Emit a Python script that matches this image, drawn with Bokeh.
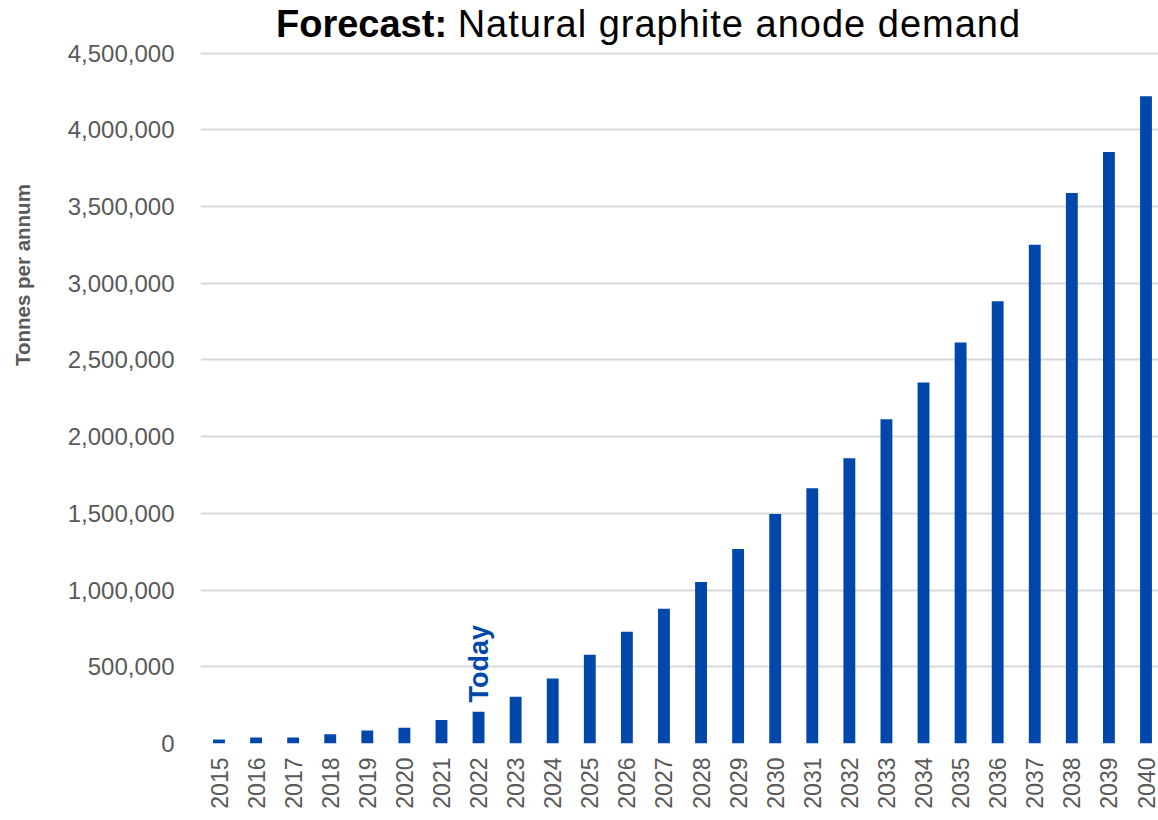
import math
from bokeh.plotting import figure
from bokeh.models import Range1d, FixedTicker, NumeralTickFormatter, Label, ColumnDataSource, Div
from bokeh.layouts import column, row
from bokeh.core.properties import value
from bokeh.embed import file_html
from bokeh.resources import INLINE

# ---- data ----
years = list(range(2015, 2041))
demand = [26000, 39000, 39000, 61000, 85000, 102000, 153000, 207000, 305000, 424000,
          579000, 729000, 879000, 1053000, 1268000, 1496000, 1663000, 1859000, 2113000,
          2353000, 2614000, 2883000, 3251000, 3588000, 3855000, 4218000]
y_ticks = [0, 500000, 1000000, 1500000, 2000000, 2500000, 3000000, 3500000, 4000000, 4500000]
title_bold = "Forecast:"
title_rest = "Natural graphite anode demand"
y_title = "Tonnes per annum"
today_year = 2022
today_text = "Today"

BLUE = "#0047ab"
GRAY = "#595959"
GRID = "#d9d9d9"
FONT = "Liberation Sans"

PAGE_W = 1158
TITLE_H = 40
H = 820 - TITLE_H
YT_W = 44                      # narrow strip holding the y-axis title
W = PAGE_W - YT_W
LEFT, TOP, BOTTOM = 200 - YT_W, 11, 77
frame_w = W - LEFT
px_per_year = 37.08
x0 = 2015 - 18.5 / px_per_year
x1 = x0 + frame_w / px_per_year

# ---- title (bold + regular run) ----
title_div = Div(
    text=(f'<span style="font-weight:bold">{title_bold}</span> '
          f'<span style="letter-spacing:1px">{title_rest}</span>'),
    width=PAGE_W, height=TITLE_H, margin=0,
    styles={"font-family": FONT, "font-size": "38px", "line-height": "38px",
            "color": "black", "padding-left": "276px", "padding-top": "5px",
            "white-space": "nowrap", "box-sizing": "border-box",
            "overflow": "visible", "z-index": "10"})

# ---- y-axis title strip ----
yt = figure(width=YT_W, height=H, output_backend="svg", toolbar_location=None,
            x_range=Range1d(0, YT_W), y_range=Range1d(0, H),
            min_border=0, margin=0)
yt.axis.visible = False
yt.grid.visible = False
yt.outline_line_color = None
yt.background_fill_color = None
yt.border_fill_color = None
yt.text(x=[22], y=[H - 252], text=[y_title], angle=math.pi / 2,
        text_align="center", text_baseline="middle", text_font=value(FONT),
        text_font_style="bold", text_font_size="20.5px", text_color=GRAY)

# ---- main chart ----
p = figure(width=W, height=H, output_backend="svg", toolbar_location=None,
           x_range=Range1d(x0, x1), y_range=Range1d(0, 4510000),
           min_border_left=LEFT, min_border_right=0, min_border_top=TOP,
           min_border_bottom=BOTTOM, margin=0)
p.outline_line_color = None
p.background_fill_color = "white"
p.border_fill_color = None

src = ColumnDataSource(dict(x=years, top=demand))
p.vbar(x="x", top="top", bottom=0, width=0.32, source=src, fill_color=BLUE, line_color=None)

p.yaxis.ticker = FixedTicker(ticks=y_ticks)
p.yaxis.formatter = NumeralTickFormatter(format="0,0")
p.yaxis.axis_line_color = None
p.yaxis.major_tick_line_color = None
p.yaxis.minor_tick_line_color = None
p.yaxis.major_tick_out = 0
p.yaxis.major_label_standoff = 26
p.yaxis.major_label_text_font = FONT
p.yaxis.major_label_text_font_size = "24px"
p.yaxis.major_label_text_color = GRAY

p.xaxis.ticker = FixedTicker(ticks=years)
p.xaxis.major_label_overrides = {y: str(y) for y in years}
p.xaxis.axis_line_color = None
p.xaxis.major_tick_line_color = None
p.xaxis.minor_tick_line_color = None
p.xaxis.major_tick_out = 0
p.xaxis.major_label_standoff = 14
p.xaxis.major_label_orientation = math.pi / 2
p.xaxis.major_label_text_font = FONT
p.xaxis.major_label_text_font_size = "23px"
p.xaxis.major_label_text_color = GRAY

p.xgrid.grid_line_color = None
p.ygrid.ticker = FixedTicker(ticks=y_ticks)
p.ygrid.grid_line_color = GRID
p.ygrid.grid_line_width = 2

# Today marker
ti = years.index(today_year)
p.add_layout(Label(x=today_year, y=demand[ti] + 60000, text=today_text, angle=math.pi / 2,
                   text_align="left", text_baseline="middle", text_font=FONT,
                   text_font_style="bold", text_font_size="27px", text_color=BLUE))

layout = column(title_div, row(yt, p, spacing=0, margin=0), spacing=0, margin=0)
open("out.html", "w").write(file_html(layout, INLINE))
